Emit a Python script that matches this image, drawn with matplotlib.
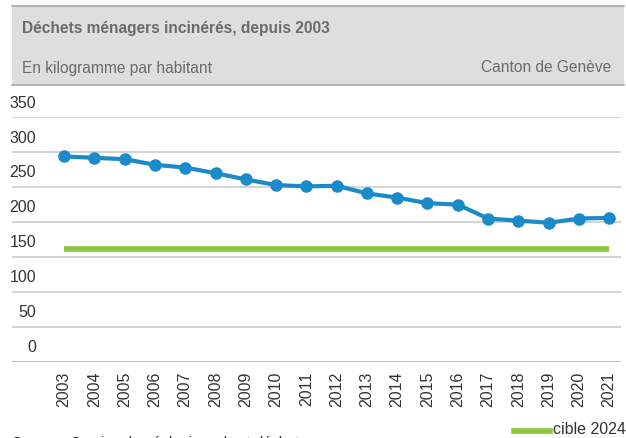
import numpy as np
import matplotlib.pyplot as plt
from matplotlib.patches import Rectangle
from matplotlib.lines import Line2D

plt.rcParams['font.family'] = ['Liberation Sans', 'DejaVu Sans']

years = list(range(2003, 2022))
dechets = [294, 292, 290, 282, 278, 270, 261, 253, 251, 252, 241, 235, 227, 225, 205, 202, 199, 205, 206]
cible = 161
y_ticks = [0, 50, 100, 150, 200, 250, 300, 350]

W, H = 626, 438
fig = plt.figure(figsize=(W / 100, H / 100), dpi=100)

def fx(px):
    return px / W

def fy(py):
    return 1 - py / H

# header box
fig.patches.append(Rectangle((fx(12), fy(85)), fx(624 - 12), fy(6) - fy(85), transform=fig.transFigure,
                             facecolor='#dedede', edgecolor='none', zorder=0))
fig.lines.append(Line2D([fx(12), fx(624)], [fy(6), fy(6)], transform=fig.transFigure, color='#a8a8a8', lw=1.2))
fig.lines.append(Line2D([fx(12), fx(624)], [fy(85), fy(85)], transform=fig.transFigure, color='#a8a8a8', lw=1.2))
fig.text(fx(22), fy(28), 'Déchets ménagers incinérés, depuis 2003', fontsize=11.2, fontweight='bold',
         color='#6b6b6b', va='center', ha='left')
fig.text(fx(22), fy(68), 'En kilogramme par habitant', fontsize=11.2, color='#6b6b6b', va='center', ha='left')
fig.text(fx(611), fy(68), 'Canton de Genève', fontsize=11.2, color='#6b6b6b', va='center', ha='right')

# plot area
left, right = 12, 621
top, bottom = 117.3, 361.7
ax = fig.add_axes([fx(left), fy(bottom), fx(right - left), fy(top) - fy(bottom)])
ax.set_xlim(2003 - 1.72, 2021 + 0.39)
ax.set_ylim(0, 350)
for s in ax.spines.values():
    s.set_visible(False)
ax.set_yticks(y_ticks)
ax.tick_params(axis='y', length=0, labelleft=False)
ax.yaxis.grid(True, color='#c8c8c8', lw=1.1)
ax.axhline(0, color='#8a8a8a', lw=1.2, zorder=1)
for v in y_ticks:
    ax.annotate(str(v), xy=(fx(36 - left) * W / (right - left), v), xycoords=('axes fraction', 'data'),
                xytext=(0, 10.2), textcoords='offset points', fontsize=11.5, color='#333333',
                va='center', ha='right')

ax.plot([years[0], years[-1]], [cible, cible], color='#8cc63e', lw=4, solid_capstyle='butt', zorder=2)
ax.plot(years, dechets, color='#1b8ac8', lw=3, marker='o', markersize=8, zorder=3)

ax.set_xticks(years)
ax.set_xticklabels([str(y) for y in years], rotation=90, fontsize=11.5, color='#333333')
ax.tick_params(axis='x', length=0, pad=7)

# legend
fig.lines.append(Line2D([fx(514), fx(550)], [fy(431), fy(431)], transform=fig.transFigure,
                        color='#8cc63e', lw=4))
fig.text(fx(553), fy(429), 'cible 2024', fontsize=11.5, color='#333333', va='center', ha='left')

# source (cut off at bottom, as in the original)
fig.text(fx(12), fy(436.5), 'Source : Service de géologie, sols et déchets', fontsize=10.5,
         color='#333333', va='top', ha='left')

fig.savefig('out.png', dpi=100)
